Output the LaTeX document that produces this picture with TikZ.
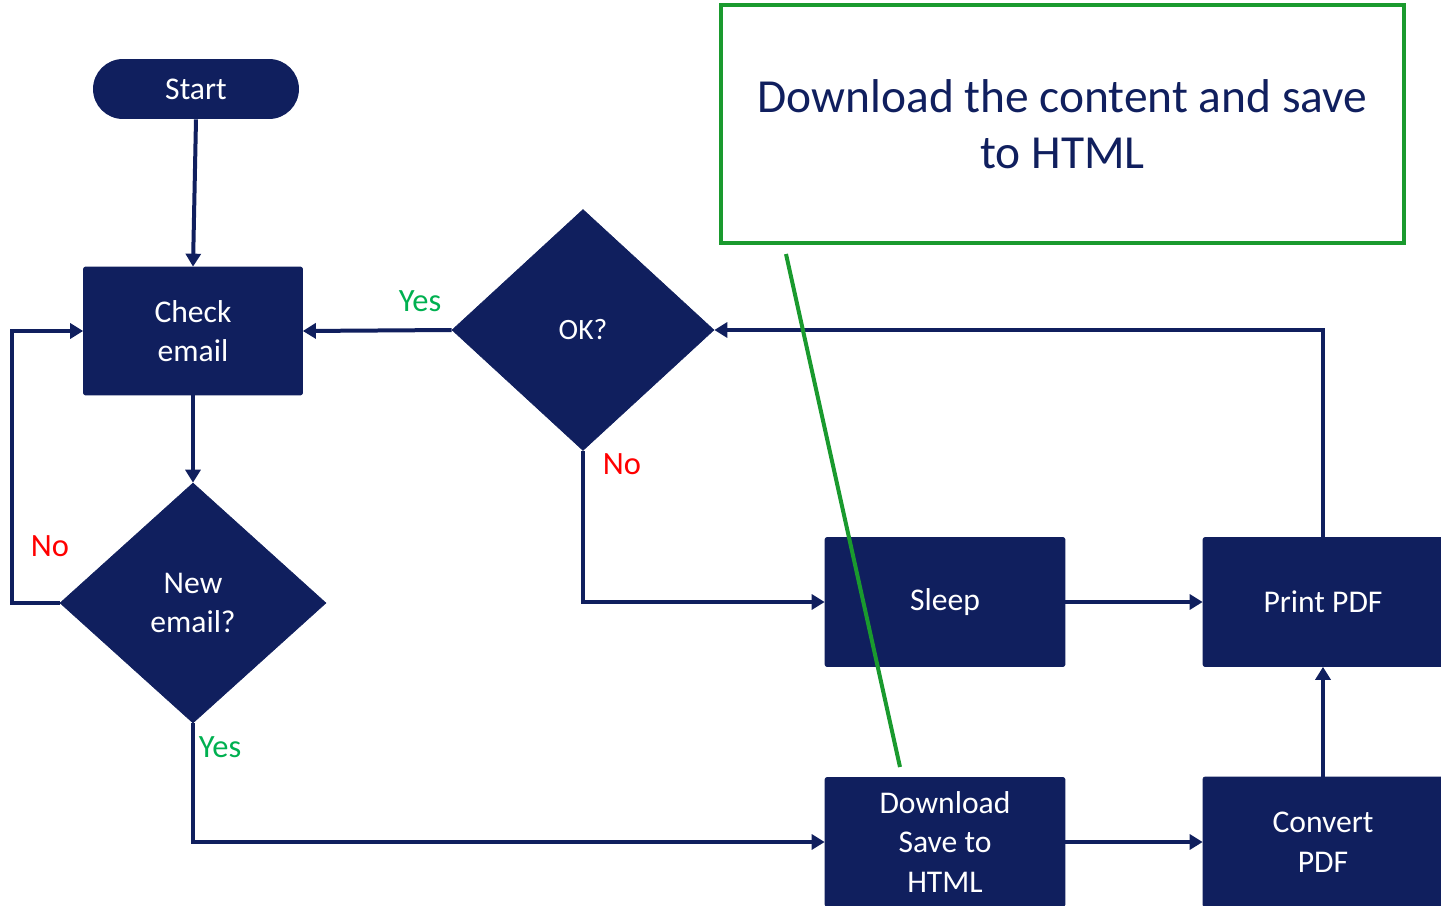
\documentclass[tikz,border=0pt]{standalone}
\usepackage{fontspec}
\setmainfont{Carlito}
\usetikzlibrary{shapes.geometric,shapes.misc,arrows.meta}
\definecolor{navy}{RGB}{16,31,94}
\definecolor{yesgreen}{RGB}{0,176,80}
\definecolor{nored}{RGB}{255,0,0}
\definecolor{boxgreen}{RGB}{26,154,46}
\tikzset{
  proc/.style={rectangle, fill=navy, draw=navy, rounded corners=0.04cm, text=white, inner sep=0pt,
    minimum width=4.8cm, minimum height=2.58cm, align=center, font=\fontsize{18}{22.5}\selectfont},
  decis/.style={diamond, fill=navy, draw=navy, text=white, inner sep=0pt, align=center,
    font=\fontsize{18}{22.5}\selectfont},
  conn/.style={draw=navy, line width=0.08cm, -{Triangle[length=0.26cm,width=0.3cm]}},
  lbl/.style={font=\fontsize{18.5}{22}\selectfont, inner sep=0pt},
}
\begin{document}
\begin{tikzpicture}[x=0.02cm,y=-0.02cm]
\useasboundingbox (0,0) rectangle (1441,906);
% nodes
\node[rounded rectangle, fill=navy, text=white, minimum width=4.12cm, minimum height=1.2cm, inner sep=0pt,
  font=\fontsize{18}{22.5}\selectfont] (start) at (196,89) {Start};
\node[proc, minimum width=4.38cm, minimum height=2.56cm] (check) at (193,331) {Check\\email};
\node[decis, minimum width=5.32cm, minimum height=4.8cm] (new) at (193,603) {New\\email?};
\node[decis, minimum width=5.24cm, minimum height=4.82cm, font=\fontsize{16.8}{20}\selectfont] (ok) at (583,330) {OK?};
\node[proc] (sleep) at (945,602) {Sleep};
\node[proc] (print) at (1323,602) {Print PDF};
\node[proc] (dl) at (945,842) {Download\\Save to\\HTML};
\node[proc, minimum height=2.6cm] (conv) at (1323,842) {Convert\\PDF};
\node[draw=boxgreen, line width=0.08cm, minimum width=13.66cm, minimum height=4.76cm, inner sep=0pt,
  text=navy, align=center, font=\fontsize{27}{31.7}\selectfont] (note) at (1062.5,124)
  {Download the content and save\\to HTML};
% helper coordinates
\coordinate (lcorner) at (12,603);
\coordinate (gtop) at (786,254);
\coordinate (gbot) at (900,767);
% connectors
\draw[conn] (start.south) -- (check.north);
\draw[conn] (check.south) -- (new.north);
\draw[conn] (new.west) -- (lcorner) |- (check.west);
\draw[conn] (new.south) |- (dl.west);
\draw[conn] (ok.west) -- (check.east);
\draw[conn] (ok.south) |- (sleep.west);
\draw[conn] (sleep.east) -- (print.west);
\draw[conn] (dl.east) -- (conv.west);
\draw[conn] (conv.north) -- (print.south);
\draw[conn] (print.north) |- (ok.east);
% callout line
\draw[boxgreen, line width=0.08cm] (gtop) -- (gbot);
% labels
\node[lbl, text=nored] (nol) at (50,546) {No};
\node[lbl, text=yesgreen] (yesb) at (220,747) {Yes};
\node[lbl, text=yesgreen] (yest) at (420,301) {Yes};
\node[lbl, text=nored] (nor) at (622,464) {No};
\end{tikzpicture}
\end{document}
